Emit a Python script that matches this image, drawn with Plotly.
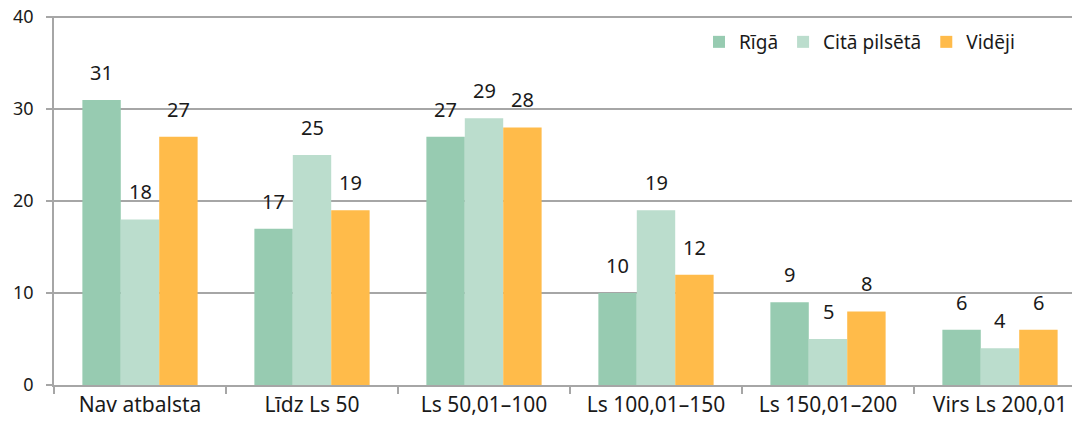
import plotly.graph_objects as go

categories = ["Nav atbalsta", "Līdz Ls 50", "Ls 50,01–100", "Ls 100,01–150", "Ls 150,01–200", "Virs Ls 200,01"]
series_names = ["Rīgā", "Citā pilsētā", "Vidēji"]
riga = [31, 17, 27, 10, 9, 6]
cita = [18, 25, 29, 19, 5, 4]
videji = [27, 19, 28, 12, 8, 6]
y_ticks = [0, 10, 20, 30, 40]

colors = ["#97CBB1", "#BBDDCD", "#FFBB4A"]
FONT = "Noto Sans"

fig = go.Figure()
all_vals = [riga, cita, videji]
for name, vals, col in zip(series_names, all_vals, colors):
    fig.add_trace(go.Bar(name=name, x=categories, y=vals, marker=dict(color=col, line=dict(width=0))))

W, H = 1072, 427
ml, mt, mb = 54, 16, 42
plot_w = W - ml
cat_px = 172
n_vis = plot_w / cat_px
bar_px = cat_px * (1 - 0.33) / 3

annotations = []
for i, vals in enumerate(all_vals):
    off = (i - 1) * bar_px
    for c, v in zip(categories, vals):
        annotations.append(dict(x=c, y=v, xref="x", yref="y", text=str(v), showarrow=False,
                                xshift=off, yshift=12, yanchor="bottom",
                                font=dict(family=FONT, size=20, color="#1a1a1a")))

fig.update_layout(
    width=W, height=H,
    margin=dict(l=ml, r=0, t=mt, b=mb, pad=0, autoexpand=False),
    barmode="group", bargap=0.33, bargroupgap=0,
    plot_bgcolor="white", paper_bgcolor="white",
    font=dict(family=FONT, size=20, color="#1a1a1a"),
    annotations=annotations,
    legend=dict(orientation="h", x=(699 - ml) / plot_w, xanchor="left", y=1 - 26 / (H - mt - mb), yanchor="middle",
                font=dict(family=FONT, size=19, color="#1a1a1a"), bgcolor="rgba(0,0,0,0)",
                itemwidth=30, traceorder="normal"),
    showlegend=True,
)
fig.update_xaxes(range=[-0.5, -0.5 + n_vis], showgrid=False, showline=True, linecolor="#A6A6A6", linewidth=1.5,
                 ticks="outside", tickson="boundaries", ticklen=7, tickcolor="#A6A6A6", tickwidth=1.5,
                 automargin=False,
                 tickfont=dict(family=FONT, size=21, color="#1a1a1a"))
fig.update_yaxes(range=[0, 40.12], tickvals=y_ticks, showgrid=True, gridcolor="#A6A6A6", gridwidth=1.5,
                 showline=True, linecolor="#A6A6A6", linewidth=1.5, zeroline=False, automargin=False,
                 ticks="outside", ticklen=6, tickcolor="#A6A6A6", tickwidth=1.5, ticklabelstandoff=9,
                 ticklabeloverflow="allow",
                 tickfont=dict(family=FONT, size=18, color="#1a1a1a"))

fig.write_html("out.html", config={"displayModeBar": False},
               post_script="document.body.style.margin='0';document.body.style.overflow='hidden';")
